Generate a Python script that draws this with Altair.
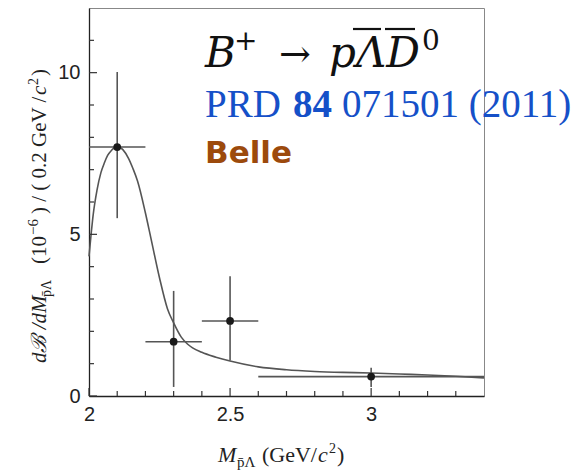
import altair as alt
import pandas as pd

# ---------------- data ----------------
pt_x = [2.1, 2.3, 2.5, 3.0]
pt_y = [7.70, 1.68, 2.32, 0.60]
pt_xlo = [2.0, 2.2, 2.4, 2.6]
pt_xhi = [2.2, 2.4, 2.6, 3.4]
pt_ylo = [5.50, 0.28, 1.10, 0.28]
pt_yhi = [10.02, 3.25, 3.70, 0.87]

fit_x = [2.000, 2.008, 2.015, 2.028, 2.042, 2.055, 2.066, 2.08, 2.10, 2.12, 2.14,
         2.155, 2.172, 2.20, 2.219, 2.25, 2.278, 2.30, 2.327, 2.35, 2.40, 2.45,
         2.50, 2.60, 2.70, 2.80, 2.90, 3.00, 3.10, 3.20, 3.30, 3.40]
fit_y = [4.32, 5.05, 5.62, 6.35, 6.90, 7.22, 7.44, 7.60, 7.72, 7.62, 7.35,
         7.05, 6.65, 5.66, 4.90, 3.65, 2.70, 2.26, 1.82, 1.60, 1.35, 1.20,
         1.08, 0.90, 0.81, 0.76, 0.73, 0.71, 0.68, 0.65, 0.61, 0.56]

x_major = [2.0, 2.5, 3.0]
y_major = [0, 5, 10]
x_minor = [2.1, 2.2, 2.3, 2.4, 2.6, 2.7, 2.8, 2.9, 3.1, 3.2, 3.3]
y_minor = [1, 2, 3, 4, 6, 7, 8, 9, 11]

x_domain = [2.0, 3.4]
y_domain = [0, 12]

# x-axis title pieces
xt_m = ["M"]
xt_sub = ["p̄Λ"]
xt_unit = ["(GeV/"]
xt_c = ["c"]
xt_sq = ["2"]
xt_close = [")"]
# y-axis title pieces
yt_a = ["dℬ /dM"]
yt_sub = ["p̄Λ"]
yt_b = ["(10"]
yt_exp = ["−6"]
yt_c = [") / ( 0.2 GeV /"]
yt_cc = ["c"]
yt_sq = ["2"]
yt_close = [")"]

decay_b = ["B"]
decay_plus = ["+"]
decay_arrow = ["→"]
decay_final = ["pΛD"]
decay_zero = ["0"]
ref_a = ["PRD"]
ref_b = ["84"]
ref_c = ["071501 (2011)"]
exp_text = ["Belle"]

W, H = 395, 388

pts = pd.DataFrame({"x": pt_x, "y": pt_y, "xlo": pt_xlo, "xhi": pt_xhi,
                    "ylo": pt_ylo, "yhi": pt_yhi})
fit = pd.DataFrame({"x": fit_x, "y": fit_y})

xs = alt.Scale(domain=x_domain, nice=False, zero=False)
ys = alt.Scale(domain=y_domain, nice=False, zero=True)

xaxis = alt.Axis(values=x_major, title=None, ticks=False, grid=False,
                 labelFont="Liberation Sans", labelFontSize=20, labelColor="#222",
                 labelPadding=8, labelFlush=False,
                 labelExpr="datum.value == 2 ? '2' : datum.value == 3 ? '3' : '2.5'",
                 domainColor="#222", domainWidth=1.3)
yaxis = alt.Axis(values=y_major, title=None, ticks=False, grid=False,
                 labelFont="Liberation Sans", labelFontSize=20, labelColor="#222",
                 labelPadding=9, labelBaseline="middle",
                 domainColor="#222", domainWidth=1.3)

base_fit = alt.Chart(fit).mark_line(color="#555", strokeWidth=1.6,
                                    interpolate="monotone").encode(
    x=alt.X("x:Q", scale=xs, axis=xaxis),
    y=alt.Y("y:Q", scale=ys, axis=yaxis),
)

xerr = alt.Chart(pts).mark_rule(color="#555", strokeWidth=1.6).encode(
    x=alt.X("xlo:Q", scale=xs), x2="xhi:Q", y=alt.Y("y:Q", scale=ys))
yerr = alt.Chart(pts).mark_rule(color="#555", strokeWidth=1.6).encode(
    x=alt.X("x:Q", scale=xs), y=alt.Y("ylo:Q", scale=ys), y2="yhi:Q")
dots = alt.Chart(pts).mark_point(filled=True, size=60, color="#1a1a1a",
                                 opacity=1).encode(
    x=alt.X("x:Q", scale=xs), y=alt.Y("y:Q", scale=ys))

# inward ticks
ymaj = alt.Chart(pd.DataFrame({"v": y_major})).mark_rule(color="#333", strokeWidth=1.2).encode(
    y=alt.Y("v:Q", scale=ys), x=alt.value(0), x2=alt.value(8))
ymin = alt.Chart(pd.DataFrame({"v": y_minor})).mark_rule(color="#333", strokeWidth=1.2).encode(
    y=alt.Y("v:Q", scale=ys), x=alt.value(0), x2=alt.value(5))
xmaj = alt.Chart(pd.DataFrame({"v": x_major})).mark_rule(color="#333", strokeWidth=1.2).encode(
    x=alt.X("v:Q", scale=xs), y=alt.value(H), y2=alt.value(H - 8))
xmin = alt.Chart(pd.DataFrame({"v": x_minor})).mark_rule(color="#333", strokeWidth=1.2).encode(
    x=alt.X("v:Q", scale=xs), y=alt.value(H), y2=alt.value(H - 5))

def label(txt, px, py, **kw):
    return alt.Chart(pd.DataFrame({"t": txt})).mark_text(align="left", baseline="alphabetic",
                                                         **kw).encode(
        text="t:N", x=alt.value(px), y=alt.value(py))

def bar(x1, x2, py):
    return alt.Chart(pd.DataFrame({"t": [0]})).mark_rule(color="#111", strokeWidth=2.2).encode(
        x=alt.value(x1), x2=alt.value(x2), y=alt.value(py))

# decay annotation
d1 = label(decay_b, 116, 59, font="DejaVu Serif", fontStyle="italic", fontSize=42, color="#111")
d2 = label(decay_plus, 145, 42, font="DejaVu Serif", fontSize=28, color="#111")
d3 = label(decay_arrow, 190, 59, font="DejaVu Serif", fontSize=38, color="#111")
d4 = label(decay_final, 240, 59, font="DejaVu Serif", fontStyle="italic", fontSize=42, color="#111")
d5 = label(decay_zero, 333, 42, font="DejaVu Serif", fontSize=28, color="#111")
ob1 = bar(264, 292, 21)
ob2 = bar(296, 326, 21)

t2a = label(ref_a, 116, 109, font="Liberation Serif", fontSize=39, color="#1550c8")
t2b = label(ref_b, 204, 109, font="Liberation Serif", fontSize=39, fontWeight="bold", color="#1550c8")
t2c = label(ref_c, 253, 109, font="Liberation Serif", fontSize=39, color="#1550c8")
t3 = label(exp_text, 116, 155, font="DejaVu Sans", fontSize=31, fontWeight="bold", color="#9c4a0c")

# x-axis title
TC = "#222"
xa = label(xt_m, 129, 454, font="Liberation Serif", fontStyle="italic", fontSize=22, color=TC)
xb = label(xt_sub, 148, 459, font="Liberation Serif", fontSize=15, color=TC)
xc = label(xt_unit, 173, 454, font="Liberation Serif", fontSize=22, color=TC)
xd = label(xt_c, 229, 454, font="Liberation Serif", fontStyle="italic", fontSize=22, color=TC)
xe = label(xt_sq, 240, 445, font="Liberation Serif", fontSize=14, color=TC)
xf = label(xt_close, 248, 454, font="Liberation Serif", fontSize=22, color=TC)

# y-axis title (rotated)
YB = -43
ya = label(yt_a, YB, 355, font="Liberation Serif", fontStyle="italic", fontSize=21, color=TC, angle=270)
yb = label(yt_sub, YB + 5, 289, font="Liberation Serif", fontSize=14, color=TC, angle=270)
yc = label(yt_b, YB, 256, font="Liberation Serif", fontSize=21, color=TC, angle=270)
yd = label(yt_exp, YB - 8, 227, font="Liberation Serif", fontSize=15, color=TC, angle=270)
ye = label(yt_c, YB, 206, font="Liberation Serif", fontSize=21, color=TC, angle=270)
yf = label(yt_cc, YB, 87, font="Liberation Serif", fontStyle="italic", fontSize=21, color=TC, angle=270)
yg = label(yt_sq, YB - 8, 77, font="Liberation Serif", fontSize=14, color=TC, angle=270)
yh = label(yt_close, YB, 68, font="Liberation Serif", fontSize=21, color=TC, angle=270)

chart = alt.layer(base_fit, xerr, yerr, dots, ymaj, ymin, xmaj, xmin,
                  d1, d2, d3, d4, d5, ob1, ob2, t2a, t2b, t2c, t3,
                  xa, xb, xc, xd, xe, xf,
                  ya, yb, yc, yd, ye, yf, yg, yh).properties(
    width=W, height=H,
    autosize=alt.AutoSizeParams(type="none"),
    padding={"left": 89, "top": 8, "right": 96, "bottom": 74},
    background="white",
).configure_view(stroke="#888", strokeWidth=1)

chart.save("out.html", embed_options={"renderer": "svg", "actions": False})
